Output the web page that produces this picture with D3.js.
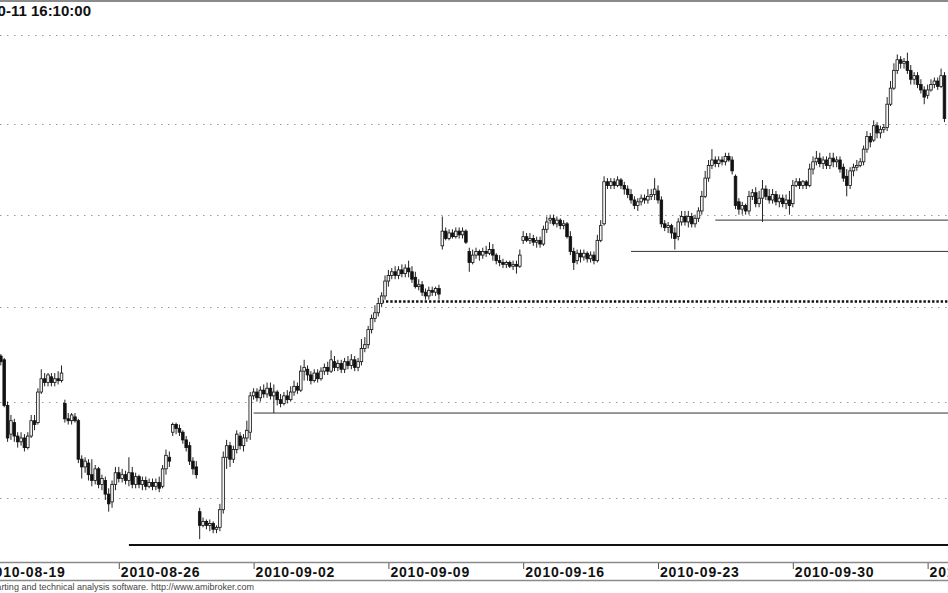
<!DOCTYPE html>
<html lang="en">
<head>
<meta charset="UTF-8">
<title>WIG20 60 min</title>
<script src="https://d3js.org/d3.v7.min.js"></script>
<style>
  body { margin: 0; background: #fff; }
  svg { display: block; }
</style>
</head>
<body>
<script>
// hourly bars, 8 per session (9:00 ... 16:00)
var days = ["2010-08-19","2010-08-20","2010-08-23","2010-08-24","2010-08-25","2010-08-26","2010-08-27",
            "2010-08-30","2010-08-31","2010-09-01","2010-09-02","2010-09-03","2010-09-06","2010-09-07",
            "2010-09-08","2010-09-09","2010-09-10","2010-09-13","2010-09-14","2010-09-15","2010-09-16",
            "2010-09-17","2010-09-20","2010-09-21","2010-09-22","2010-09-23","2010-09-24","2010-09-27",
            "2010-09-28","2010-09-29","2010-09-30","2010-10-01","2010-10-04","2010-10-05","2010-10-06",
            "2010-10-07"];
var firstSlot = 4;   // first bar in view is 2010-08-19 13:00

var opens = [
  2422,2424,2422,2398,
  2383,2389,2382,2379,2381,2376,2382,2390,
  2389,2405,2412,2410,2413,2410,2412,2411,
  2399,2391,2390,2392,2390,2370,2366,2368,
  2362,2359,2365,2357,2359,2352,2348,2357,
  2363,2360,2362,2359,2363,2357,2361,2357,
  2359,2356,2358,2356,2358,2356,2365,2371,
  2384,2388,2386,2384,2380,2377,2369,2366,
  2343,2336,2338,2336,2337,2334,2335,2344,
  2371,2377,2370,2375,2382,2377,2381,2384,
  2403,2405,2402,2406,2404,2407,2403,2405,
  2401,2399,2403,2401,2405,2408,2406,2416,
  2417,2414,2411,2415,2412,2416,2418,2416,
  2421,2418,2420,2417,2421,2419,2422,2418,
  2421,2428,2430,2438,2444,2447,2452,2456,
  2464,2467,2469,2467,2470,2468,2471,2469,
  2466,2461,2462,2458,2456,2459,2458,2460,
  2483,2491,2487,2490,2488,2491,2489,2491,
  2480,2474,2478,2480,2478,2480,2479,2481,
  2478,2475,2474,2473,2474,2472,2473,2472,
  2486,2488,2486,2487,2485,2486,2484,2492,
  2497,2498,2495,2497,2494,2495,2488,2480,
  2475,2479,2477,2479,2476,2478,2475,2486,
  2495,2518,2516,2518,2516,2519,2516,2514,
  2511,2508,2505,2507,2509,2508,2510,2511,
  2513,2508,2495,2493,2494,2490,2488,2496,
  2499,2496,2499,2495,2498,2502,2510,2520,
  2527,2530,2528,2530,2529,2532,2530,2521,
  2507,2503,2505,2502,2510,2512,2506,2509,
  2514,2510,2508,2511,2507,2509,2506,2508,
  2506,2516,2518,2516,2518,2516,2525,2529,
  2531,2528,2530,2527,2531,2529,2530,2526,
  2521,2516,2524,2526,2527,2529,2536,2543,
  2541,2549,2545,2547,2548,2561,2570,2580,
  2586,2584,2585,2580,2575,2577,2572,2569,
  2566,2569,2572,2574,2571,2577
];
var highs = [
  2426,2425,2423,2400,
  2393,2391,2384,2384,2383,2384,2393,2393,
  2407,2417,2415,2415,2415,2415,2416,2419,
  2401,2394,2394,2394,2391,2372,2371,2370,
  2370,2367,2366,2362,2361,2355,2359,2366,
  2366,2365,2364,2371,2366,2363,2362,2361,
  2361,2360,2360,2360,2361,2367,2375,2374,
  2389,2389,2388,2385,2382,2379,2371,2369,
  2345,2340,2339,2339,2338,2336,2347,2374,
  2380,2379,2377,2385,2384,2383,2390,2405,
  2407,2407,2408,2409,2410,2410,2409,2406,
  2404,2405,2406,2408,2411,2410,2419,2422,
  2419,2416,2417,2417,2418,2420,2421,2427,
  2424,2422,2422,2423,2424,2425,2424,2423,
  2433,2434,2440,2446,2451,2455,2458,2467,
  2470,2471,2472,2472,2473,2473,2475,2472,
  2469,2465,2464,2460,2461,2461,2461,2462,
  2499,2493,2492,2492,2493,2493,2493,2492,
  2482,2481,2482,2481,2482,2483,2485,2484,
  2479,2478,2476,2475,2475,2475,2475,2481,
  2491,2490,2490,2489,2488,2488,2494,2499,
  2500,2500,2499,2498,2497,2496,2491,2482,
  2481,2481,2481,2480,2480,2480,2489,2497,
  2521,2520,2520,2520,2521,2520,2518,2516,
  2514,2510,2509,2511,2511,2514,2514,2520,
  2516,2510,2497,2496,2495,2493,2498,2502,
  2502,2502,2501,2500,2504,2513,2524,2530,
  2536,2532,2532,2532,2534,2534,2532,2522,
  2509,2507,2506,2513,2514,2515,2513,2519,
  2516,2514,2514,2513,2511,2511,2511,2513,
  2519,2520,2520,2519,2519,2528,2532,2535,
  2534,2532,2532,2534,2534,2532,2532,2528,
  2525,2526,2528,2530,2531,2538,2546,2545,
  2552,2551,2549,2550,2565,2574,2584,2589,
  2588,2587,2590,2583,2579,2579,2575,2571,
  2572,2575,2576,2576,2581,2579
];
var lows = [
  2421,2419,2397,2379,
  2380,2379,2376,2377,2374,2375,2381,2385,
  2388,2404,2408,2408,2408,2408,2409,2410,
  2389,2388,2388,2389,2368,2360,2363,2359,
  2356,2357,2355,2354,2349,2343,2345,2354,
  2358,2358,2357,2356,2355,2355,2355,2354,
  2354,2355,2354,2354,2353,2355,2362,2366,
  2382,2383,2382,2378,2374,2367,2362,2360,
  2329,2335,2334,2333,2332,2332,2333,2342,
  2365,2366,2368,2373,2375,2374,2379,2380,
  2401,2400,2400,2402,2402,2401,2394,2398,
  2397,2398,2399,2400,2403,2404,2405,2411,
  2411,2409,2410,2410,2411,2414,2414,2415,
  2416,2416,2415,2415,2417,2417,2416,2416,
  2419,2426,2428,2436,2442,2445,2450,2454,
  2461,2465,2465,2465,2466,2466,2466,2463,
  2460,2459,2456,2454,2454,2456,2456,2454,
  2481,2486,2486,2487,2487,2487,2487,2484,
  2469,2473,2476,2475,2476,2477,2478,2475,
  2473,2472,2471,2471,2471,2470,2468,2471,
  2484,2485,2484,2483,2482,2482,2483,2490,
  2495,2494,2493,2492,2492,2487,2478,2470,
  2473,2474,2475,2474,2474,2473,2474,2485,
  2494,2514,2514,2514,2515,2514,2511,2509,
  2506,2503,2502,2505,2506,2506,2508,2508,
  2506,2493,2491,2490,2487,2481,2486,2494,
  2494,2493,2493,2493,2496,2500,2509,2518,
  2525,2526,2526,2527,2527,2529,2522,2503,
  2500,2500,2500,2500,2508,2504,2504,2496,
  2508,2506,2506,2505,2504,2504,2503,2500,
  2504,2515,2514,2514,2514,2515,2522,2527,
  2526,2525,2525,2525,2526,2526,2523,2518,
  2510,2514,2521,2524,2526,2527,2534,2537,
  2540,2542,2542,2545,2546,2560,2569,2578,
  2581,2581,2578,2572,2572,2570,2567,2561,
  2564,2568,2570,2569,2570,2551
];
var closes = [
  2424,2421,2398,2381,
  2390,2382,2379,2381,2376,2382,2390,2388,
  2405,2412,2410,2414,2410,2412,2411,2415,
  2391,2390,2393,2390,2370,2366,2369,2362,
  2359,2365,2357,2360,2352,2347,2357,2363,
  2360,2362,2359,2363,2357,2361,2357,2359,
  2356,2358,2356,2358,2355,2365,2372,2369,
  2388,2386,2384,2380,2376,2369,2365,2362,
  2336,2338,2336,2337,2334,2335,2344,2371,
  2377,2370,2375,2383,2377,2381,2385,2403,
  2405,2402,2406,2404,2407,2403,2405,2401,
  2399,2403,2401,2405,2408,2406,2416,2418,
  2414,2411,2415,2412,2416,2418,2416,2422,
  2418,2420,2417,2421,2419,2422,2418,2421,
  2428,2430,2438,2444,2447,2452,2456,2464,
  2467,2469,2467,2470,2468,2471,2469,2465,
  2461,2462,2458,2456,2459,2458,2460,2457,
  2491,2487,2490,2488,2491,2489,2491,2485,
  2474,2478,2480,2478,2480,2479,2481,2478,
  2475,2474,2473,2474,2472,2473,2472,2478,
  2488,2486,2487,2485,2486,2484,2492,2496,
  2498,2495,2497,2494,2495,2488,2480,2474,
  2479,2477,2479,2476,2478,2475,2486,2494,
  2518,2516,2518,2516,2519,2516,2514,2511,
  2508,2505,2507,2509,2508,2510,2511,2514,
  2508,2495,2493,2494,2490,2487,2496,2499,
  2496,2499,2495,2498,2502,2510,2520,2527,
  2530,2528,2530,2529,2532,2530,2524,2505,
  2503,2505,2502,2510,2512,2506,2509,2514,
  2510,2508,2511,2507,2509,2506,2508,2505,
  2516,2518,2516,2518,2516,2525,2529,2531,
  2528,2530,2527,2531,2529,2530,2525,2520,
  2516,2524,2526,2527,2529,2536,2543,2540,
  2549,2545,2547,2548,2561,2570,2580,2586,
  2584,2585,2580,2575,2577,2572,2569,2565,
  2569,2572,2574,2571,2577,2553
];

var gridValues = [2350, 2400, 2450, 2500, 2550, 2600];
var tickDays = ["2010-08-19","2010-08-26","2010-09-02","2010-09-09","2010-09-16","2010-09-23","2010-09-30","2010-10-07"];

// horizontal support/resistance levels drawn on the chart
var levelValues = [2326, 2394, 2453, 2480, 2497];
var levelFrom   = ["2010-08-26 12:00", "2010-09-02 09:00", "2010-09-08 15:00", "2010-09-22 09:00", "2010-09-27 10:00"];

var titleText = "2010-10-11 16:10:00";
var footerText = "AmiBroker - advanced charting and technical analysis software. http://www.amibroker.com";

var width = 948, height = 593;
var barsPerDay = 8;

function barIndex(stamp) {
    var parts = stamp.split(" ");
    return days.indexOf(parts[0]) * barsPerDay + (parseInt(parts[1], 10) - 9);
}

var bars = opens.map(function(o, i) {
    return { k: i + firstSlot, o: o, h: highs[i], l: lows[i], c: closes[i] };
});

var svg = d3.select("body").append("svg")
    .attr("width", width)
    .attr("height", height)
    .style("font-family", "'Liberation Sans', Arial, sans-serif");

svg.append("rect").attr("width", width).attr("height", height).attr("fill", "#fff");

// visible window in bar units
var x = d3.scaleLinear().domain([4.75, 286.05]).range([0, width]);
var y = d3.scaleLog().domain([2350, 2600]).range([498, 35]);

// dotted grid
svg.append("g").selectAll("line")
    .data(gridValues)
    .enter().append("line")
    .attr("x1", 0).attr("x2", width)
    .attr("y1", function(d) { return Math.round(y(d)) + 0.5; })
    .attr("y2", function(d) { return Math.round(y(d)) + 0.5; })
    .attr("stroke", "#9a9a9a")
    .attr("stroke-width", 1)
    .attr("stroke-dasharray", "1.5,5.5");

// levels
var levelStyle = [
    { w: 2, dash: null, col: "#111" },
    { w: 1, dash: null, col: "#333" },
    { w: 2.6, dash: "2.4,1.9", col: "#111" },
    { w: 1, dash: null, col: "#333" },
    { w: 1, dash: null, col: "#333" }
];
svg.append("g").selectAll("line")
    .data(levelValues)
    .enter().append("line")
    .attr("x1", function(d, i) { return x(barIndex(levelFrom[i])); })
    .attr("x2", width)
    .attr("y1", function(d) { return y(d); })
    .attr("y2", function(d) { return y(d); })
    .attr("stroke", function(d, i) { return levelStyle[i].col; })
    .attr("stroke-width", function(d, i) { return levelStyle[i].w; })
    .attr("stroke-dasharray", function(d, i) { return levelStyle[i].dash; });

// candles
var candle = svg.append("g").selectAll("g")
    .data(bars)
    .enter().append("g");

candle.append("line")
    .attr("x1", function(d) { return x(d.k); })
    .attr("x2", function(d) { return x(d.k); })
    .attr("y1", function(d) { return y(d.h); })
    .attr("y2", function(d) { return y(d.l); })
    .attr("stroke", "#222")
    .attr("stroke-width", 1);

var bodyW = 2.6;
candle.append("rect")
    .attr("x", function(d) { return x(d.k) - bodyW / 2; })
    .attr("width", bodyW)
    .attr("y", function(d) { return y(Math.max(d.o, d.c)); })
    .attr("height", function(d) { return Math.max(1, Math.abs(y(d.o) - y(d.c))); })
    .attr("fill", function(d) { return d.c >= d.o ? "#f4f4f4" : "#111"; })
    .attr("stroke", "#111")
    .attr("stroke-width", 0.8);

// top border
svg.append("rect").attr("x", 0).attr("y", 0).attr("width", width).attr("height", 2).attr("fill", "#8a8a8a");

// title (date of last bar)
svg.append("text")
    .attr("x", 91).attr("y", 15.5)
    .attr("text-anchor", "end")
    .attr("font-size", "15px")
    .attr("font-weight", "bold")
    .attr("fill", "#111")
    .text(titleText);

// date axis strip
svg.append("line").attr("x1", 0).attr("x2", width).attr("y1", 562.5).attr("y2", 562.5)
    .attr("stroke", "#8a8a8a").attr("stroke-width", 1.5);
svg.append("line").attr("x1", 0).attr("x2", width).attr("y1", 580.5).attr("y2", 580.5)
    .attr("stroke", "#8a8a8a").attr("stroke-width", 1.5);

var ticks = svg.append("g").selectAll("g")
    .data(tickDays)
    .enter().append("g")
    .attr("transform", function(d) { return "translate(" + x(days.indexOf(d) * barsPerDay) + ",0)"; });

ticks.append("line")
    .attr("x1", 0.5).attr("x2", 0.5)
    .attr("y1", 563).attr("y2", 569)
    .attr("stroke", "#555");

ticks.append("text")
    .attr("x", 2).attr("y", 577)
    .attr("font-size", "14px")
    .attr("font-weight", "bold")
    .attr("letter-spacing", "0.8px")
    .attr("fill", "#111")
    .text(function(d) { return d; });

// footer
svg.append("text")
    .attr("x", 254).attr("y", 590)
    .attr("text-anchor", "end")
    .attr("font-size", "9px")
    .attr("fill", "#444")
    .text(footerText);
</script>
</body>
</html>
